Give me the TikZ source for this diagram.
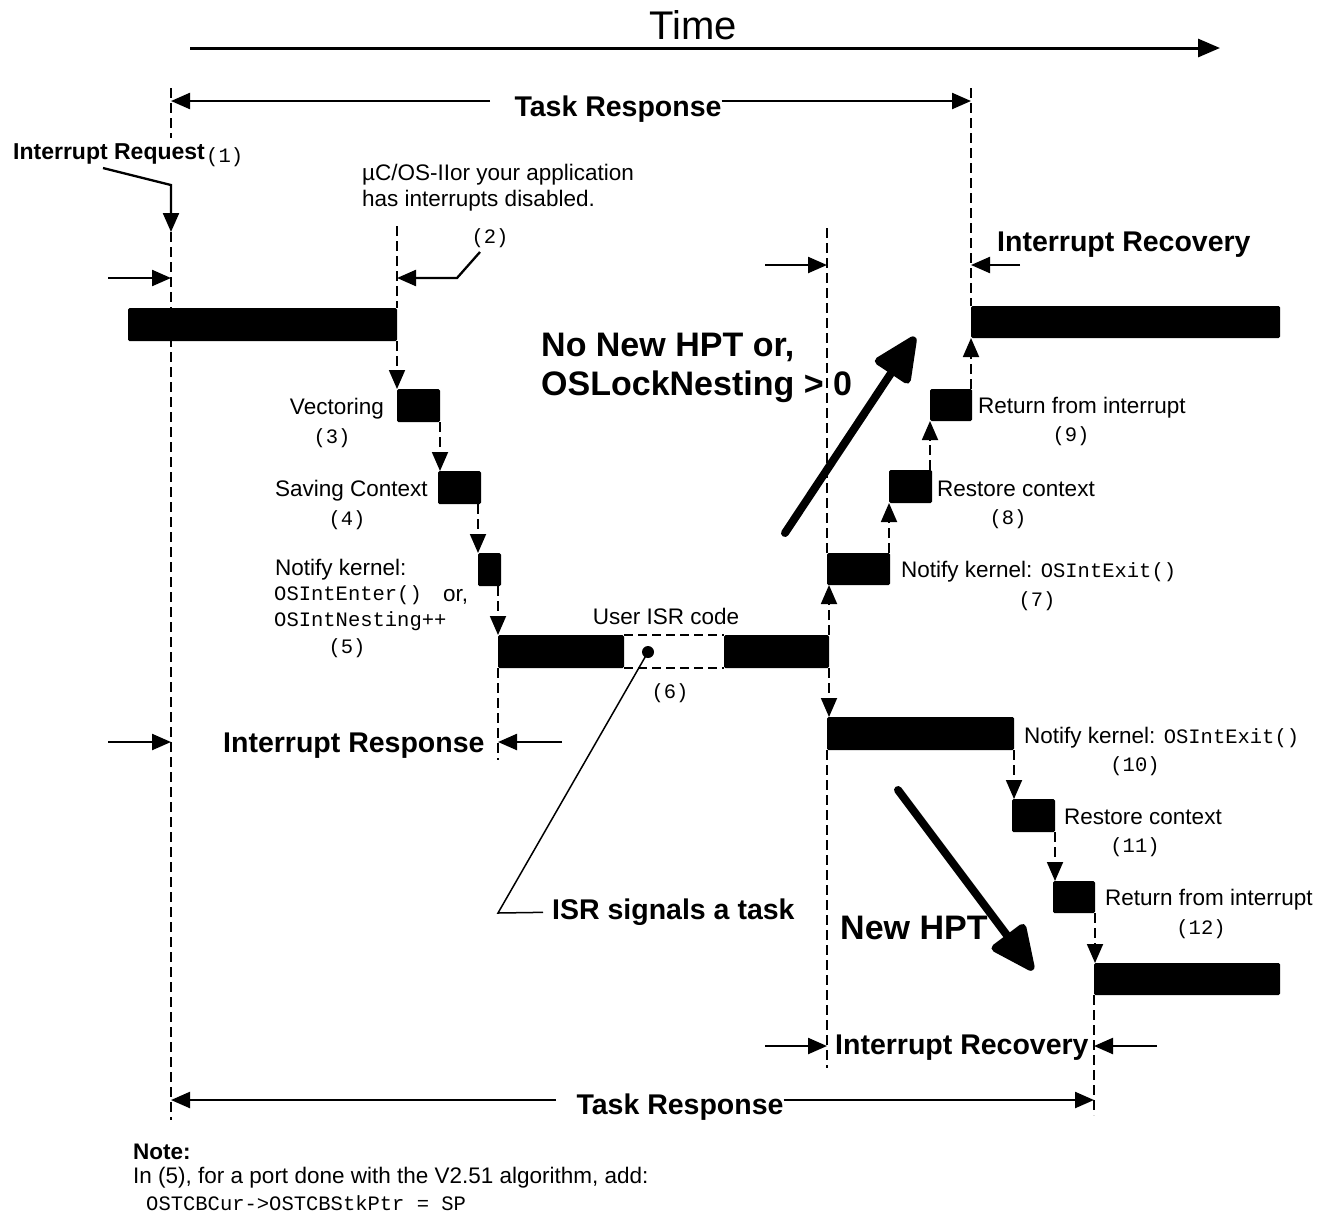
\documentclass[tikz,border=0pt]{standalone}
\usepackage{fontspec}
\setmainfont{Liberation Sans}
\setmonofont{Liberation Mono}
\usetikzlibrary{arrows.meta}
\begin{document}
\begin{tikzpicture}[x=1pt,y=-1pt,
  bar/.style={fill=black, rounded corners=1.5pt, inner sep=0pt, outer sep=0pt, anchor=north west},
  dl/.style={line width=1.8pt, dash pattern=on 10pt off 5pt},
  arr/.style={line width=2.3pt, -{Triangle[length=19pt,width=16pt]}},
  darr/.style={line width=1.8pt, dash pattern=on 10pt off 5pt, -{Triangle[length=19pt,width=16pt]}},
  bigarr/.style={line width=8pt, line cap=round, -{Triangle[length=50pt,width=44pt,round]}},
  txt/.style={inner sep=0pt, yshift=-6pt, font=\fontsize{22.5}{27}\selectfont},
  mono/.style={inner sep=0pt, font=\fontsize{20.5}{24}\selectfont\ttfamily},
  lbl/.style={inner sep=0pt, yshift=-5pt, font=\fontsize{28.5}{34}\selectfont\bfseries},
  hugelbl/.style={inner sep=0pt, yshift=-6pt, font=\fontsize{34}{40}\selectfont\bfseries},
]
\fill[white] (0,0) rectangle (1338,1227);
\useasboundingbox (0,0) rectangle (1338,1227);

% ---------- bars ----------
\node[bar, minimum width=269pt, minimum height=33pt] (b0) at (128,308) {};
\node[bar, minimum width=43pt, minimum height=33pt] (vec) at (397,389) {};
\node[bar, minimum width=43pt, minimum height=33pt] (sav) at (438,471) {};
\node[bar, minimum width=23pt, minimum height=33pt] (nfy) at (478,553) {};
\node[bar, minimum width=126pt, minimum height=33pt] (isrL) at (498,635) {};
\node[bar, minimum width=105pt, minimum height=33pt] (isrR) at (724,635) {};
\node[bar, minimum width=63pt, minimum height=32pt] (n7) at (827,553) {};
\node[bar, minimum width=43pt, minimum height=33pt] (r8) at (889,470) {};
\node[bar, minimum width=42pt, minimum height=32pt] (r9) at (930,389) {};
\node[bar, minimum width=309pt, minimum height=32pt] (topbar) at (971,306) {};
\node[bar, minimum width=187pt, minimum height=33pt] (n10) at (827,717) {};
\node[bar, minimum width=43pt, minimum height=33pt] (r11) at (1012,799) {};
\node[bar, minimum width=42pt, minimum height=32pt] (r12) at (1053,881) {};
\node[bar, minimum width=186pt, minimum height=32pt] (finbar) at (1094,963) {};

% white (dashed) part of ISR bar
\draw[line width=1.8pt, dash pattern=on 9pt off 5pt] (isrL.north east) -- (isrR.north west);
\draw[line width=1.8pt, dash pattern=on 9pt off 5pt] (isrL.south east) -- (isrR.south west);
\node[circle, fill=black, minimum size=12pt, inner sep=0pt] (dot) at (648,652) {};

% ---------- vertical dashed lines ----------
\coordinate (L1a) at (171,88);
\coordinate (L1b) at (171,138);
\coordinate (L1c) at (171,232);
\coordinate (L1d) at (171,1120);
\draw[dl] (L1a) -- (L1b);
\draw[dl] (L1c) -- (L1d);
\coordinate (L2a) at (397,226);
\draw[dl] (L2a) -- (b0.north east);
\coordinate (L3b) at (498,760);
\draw[dl] (isrL.south west) -- (L3b);
\coordinate (L4a) at (827,228);
\coordinate (L4b) at (827,1068);
\draw[dl] (L4a) -- (n7.north west);
\draw[dl] (n10.south west) -- (L4b);
\coordinate (L5a) at (971,88);
\draw[dl] (L5a) -- (topbar.north west);
\coordinate (L6b) at (1094,1115);
\draw[dl] (finbar.south west) -- (L6b);

% ---------- dashed step arrows ----------
\draw[darr] (b0.south east) -- (vec.north west);
\draw[darr] (vec.south east) -- (vec.south east |- sav.north);
\draw[darr] (nfy.north west |- sav.south) -- (nfy.north west);
\draw[darr] (isrL.north west |- nfy.south) -- (isrL.north west);
\draw[darr] (isrR.north east) -- (isrR.north east |- n7.south);
\draw[darr] (isrR.south east) -- (isrR.south east |- n10.north);
\draw[darr] (r8.south west |- n7.north) -- (r8.south west);
\draw[darr] (r9.south west |- r8.north) -- (r9.south west);
\draw[darr] (topbar.south west |- r9.north) -- (topbar.south west);
\draw[darr] (n10.south east) -- (n10.south east |- r11.north);
\draw[darr] (r11.south east) -- (r11.south east |- r12.north);
\draw[darr] (r12.south east) -- (r12.south east |- finbar.north);

% ---------- texts ----------
\node[inner sep=0pt, font=\fontsize{40}{44}\selectfont] (time) at (693,25) {Time};
\node[lbl] (tr1) at (618,104) {Task Response};
\node[inner sep=0pt, yshift=-6pt, font=\fontsize{23}{27}\selectfont\bfseries, anchor=mid west] (irq) at (13,151) {Interrupt Request};
\node[mono, anchor=mid west] (n1) at (206,160) {(1)};
\node[txt, anchor=mid west] (ucos1) at (362,172) {µC/OS-IIor your application};
\node[txt, anchor=mid west] (ucos2) at (362,198) {has interrupts disabled.};
\node[mono] (n2) at (490,238) {(2)};
\node[lbl, anchor=mid west] (irec1) at (997,244) {Interrupt Recovery};
\node[hugelbl, anchor=mid west] (nohpt1) at (541,348) {No New HPT or,};
\node[hugelbl, anchor=mid west] (nohpt2) at (541,387) {OSLockNesting > 0};

\node[txt, anchor=mid east] (t3) at (384,406) {Vectoring};
\node[mono] (n3) at (332,438) {(3)};
\node[txt, anchor=mid west] (t4) at (275,488) {Saving Context};
\node[mono] (n4) at (347,520) {(4)};
\node[txt, anchor=mid west] (t5a) at (275,567) {Notify kernel:};
\node[mono, anchor=mid west] (t5b) at (274,598) {OSIntEnter()};
\node[txt, anchor=mid west] (t5c) at (443,593) {or,};
\node[mono, anchor=mid west] (t5d) at (274,624) {OSIntNesting++};
\node[mono] (n5) at (347,648) {(5)};
\node[inner sep=0pt, font=\fontsize{22.5}{27}\selectfont] (t6) at (666,616) {User ISR code};
\node[mono] (n6) at (670,693) {(6)};

\node[txt, anchor=mid west] (t9) at (978,405) {Return from interrupt};
\node[mono] (n9) at (1071,436) {(9)};
\node[txt, anchor=mid west] (t8) at (937,488) {Restore context};
\node[mono] (n8) at (1008,519) {(8)};
\node[txt, anchor=mid west] (t7) at (901,569) {Notify kernel: {\ttfamily\fontsize{20.5}{24}\selectfont OSIntExit()}};
\node[mono] (n7l) at (1037,601) {(7)};

\node[lbl, anchor=mid west] (iresp) at (223,745) {Interrupt Response};
\node[txt, anchor=mid west] (t10) at (1024,735) {Notify kernel: {\ttfamily\fontsize{20.5}{24}\selectfont OSIntExit()}};
\node[mono] (n10l) at (1135,766) {(10)};
\node[txt, anchor=mid west] (t11) at (1064,816) {Restore context};
\node[mono] (n11l) at (1135,847) {(11)};
\node[txt, anchor=mid west] (t12) at (1105,897) {Return from interrupt};
\node[mono] (n12l) at (1201,929) {(12)};

\node[lbl, anchor=mid west] (isrsig) at (552,912) {ISR signals a task};
\node[hugelbl, anchor=mid west] (newhpt) at (840,931) {New HPT};
\node[lbl, anchor=mid west] (irec2) at (835,1047) {Interrupt Recovery};
\node[lbl] (tr2) at (680,1102) {Task Response};

\node[inner sep=0pt, yshift=-6pt, font=\fontsize{22.5}{27}\selectfont\bfseries, anchor=mid west] (note) at (133,1151) {Note:};
\node[txt, anchor=mid west] (note2) at (133,1175) {In (5), for a port done with the V2.51 algorithm, add:};
\node[mono, anchor=mid west] (note3) at (146,1208) {OSTCBCur->OSTCBStkPtr = SP};

% ---------- solid arrows ----------
\coordinate (timeA) at (190,48);
\coordinate (timeB) at (1220,48);
\draw[line width=3pt, -{Triangle[length=22pt,width=18pt]}] (timeA) -- (timeB);

\coordinate (tr1L) at (490,101);
\coordinate (tr1R) at (tr1.east |- tr1L);
\draw[arr] (tr1L) -- (L1a |- tr1L);
\draw[arr] (tr1R) -- (L5a |- tr1L);

\coordinate (tr2L) at (556,1100);
\coordinate (tr2R) at (tr2.east |- tr2L);
\draw[arr] (tr2L) -- (L1a |- tr2L);
\draw[arr] (tr2R) -- (L6b |- tr2L);

\coordinate (irqA) at (103,168);
\coordinate (irqB) at (171,185);
\draw[arr] (irqA) -- (irqB) -- (L1c);

\coordinate (a1) at (108,278);
\draw[arr] (a1) -- (L1a |- a1);
\coordinate (a2a) at (480,252);
\coordinate (a2b) at (457,278);
\draw[arr] (a2a) -- (a2b) -- (L2a |- a2b);
\coordinate (a3) at (765,265);
\draw[arr] (a3) -- (L4a |- a3);
\coordinate (a4) at (1020,265);
\draw[arr] (a4) -- (L5a |- a4);
\coordinate (a5) at (108,742);
\draw[arr] (a5) -- (L1a |- a5);
\coordinate (a6) at (562,742);
\draw[arr] (a6) -- (L3b |- a6);
\coordinate (a7) at (765,1046);
\draw[arr] (a7) -- (L4a |- a7);
\coordinate (a8) at (1157,1046);
\draw[arr] (a8) -- (L6b |- a8);

% ISR signal leader
\coordinate (kink) at (498,913);
\draw[line width=1.5pt] (dot.center) -- (kink) -- ([xshift=-9pt]isrsig.west);

% big arrows
\coordinate (up1) at (785,533);
\coordinate (up2) at (915,337);
\draw[bigarr] (up1) -- (up2);
\coordinate (dn1) at (898,790);
\coordinate (dn2) at (1033,970);
\draw[bigarr] (dn1) -- (dn2);
\end{tikzpicture}
\end{document}
